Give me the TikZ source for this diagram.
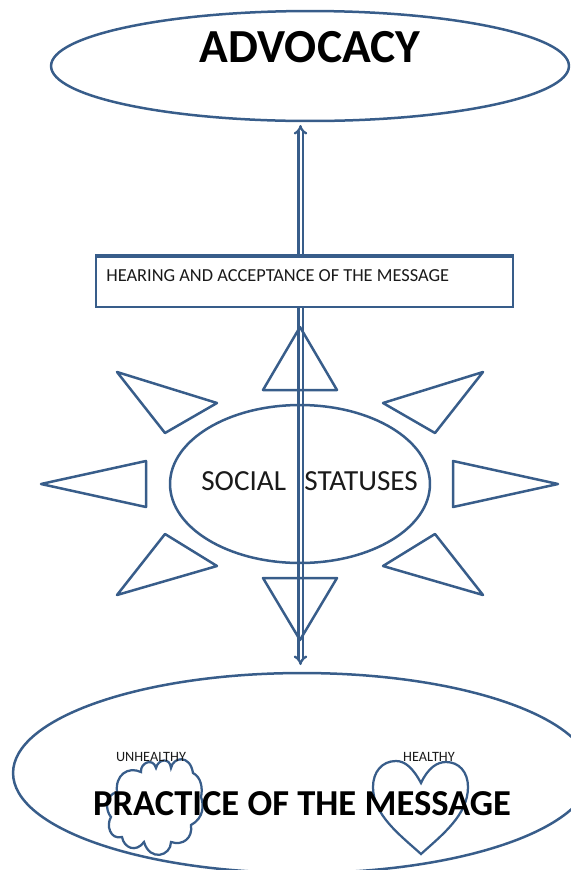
\documentclass[tikz,border=0pt]{standalone}
\usepackage{fontspec}
\setmainfont{Carlito}
\usepackage{xcolor}
\usetikzlibrary{shapes.geometric,arrows.meta}
\definecolor{officeBlue}{HTML}{385D8A}
\definecolor{textDark}{HTML}{1A1A1A}
\tikzset{
    blob/.style={draw=officeBlue, line width=0.05cm, ellipse, inner sep=0pt},
    spike/.style={draw=officeBlue, line width=0.05cm, line join=round},
    mainlabel/.style={inner sep=0pt, font=\bfseries\fontsize{20.8}{25}\selectfont},
    statuslabel/.style={inner sep=0pt, anchor=base west, text=textDark, font=\fontsize{16.6}{18}\selectfont},
    smalllabel/.style={inner sep=0pt, text=textDark, font=\fontsize{8.1}{9}\selectfont},
}

\begin{document}
\begin{tikzpicture}[x=0.02cm, y=-0.02cm]
    \clip (0, 0) rectangle (571, 870);
    \useasboundingbox (0, 0) rectangle (571, 870);
    \coordinate (arrowtop) at (300.5, 125);
    \coordinate (arrowbottom) at (300.5, 665);
    \draw[officeBlue, line width=0.045cm, double=white, double distance=0.04cm,
        {Implies[length=4.5pt, width=10pt]}-{Implies[length=4.5pt, width=10pt]}] (arrowtop) -- (arrowbottom);
    \node[blob, minimum width=10.36cm, minimum height=2.2cm] (advocacy) at (310, 66) {};
    \node[blob, minimum width=11.56cm, minimum height=4cm] (practice) at (302, 773) {};
    \node[blob, minimum width=5.2cm, minimum height=3.16cm] (statuses) at (300, 484) {};
    % rays round the middle ellipse
    \foreach \ax/\ay/\bx/\by/\cx/\cy in {
        300/327/263/390/337/390, 300/640/263/578/337/578,
        41/484/146/461/146/507, 558/484/453/461/453/507,
        117/372/217/403/165/433, 483/372/383/403/435/433,
        117/595/217/566/165/534, 483/595/383/566/435/534}
        \draw[spike] (\ax, \ay) -- (\bx, \by) -- (\cx, \cy) -- cycle;
    \node[draw=officeBlue, line width=0.04cm, fill=white, minimum width=8.34cm, minimum height=1cm, inner sep=0pt] (hearing) at (304.5, 282) {};
    \draw[officeBlue, line width=0.07cm] (hearing.north west) -- (hearing.north east);
    \node[smalllabel, anchor=base west, font=\fontsize{10.45}{12}\selectfont] (hearinglabel) at (106, 281) {HEARING AND ACCEPTANCE OF THE MESSAGE};
    \node[mainlabel, font=\bfseries\fontsize{27}{30}\selectfont] (advocacylabel) at (310, 47) {ADVOCACY};
    \node[statuslabel] (sociallabel) at (201, 490) {SOCIAL};
    \node[statuslabel] (statuseslabel) at (304, 490) {STATUSES};
    % cloud
    \draw[officeBlue, line width=0.045cm] (117, 792)
        .. controls (115, 775) and (128, 766) .. (141, 772)
        .. controls (140, 763) and (153, 757) .. (156, 768)
        .. controls (158, 759) and (170, 757) .. (171, 768)
        .. controls (173, 757) and (190, 754) .. (193, 773)
        .. controls (201, 777) and (203, 788) .. (201, 797)
        .. controls (204, 805) and (204, 818) .. (191, 825)
        .. controls (193, 838) and (183, 846) .. (171, 842)
        .. controls (171, 856) and (150, 862) .. (144, 842)
        .. controls (136, 853) and (124, 848) .. (122, 837)
        .. controls (110, 840) and (106, 825) .. (111, 817)
        .. controls (105, 810) and (105, 795) .. (117, 792) -- cycle;
    % heart
    \draw[officeBlue, line width=0.045cm] (421, 783)
        .. controls (413, 768) and (405, 761) .. (396, 761)
        .. controls (382, 761) and (373, 772) .. (373, 787)
        .. controls (373, 815) and (400, 835) .. (421, 854)
        .. controls (442, 835) and (468, 815) .. (468, 787)
        .. controls (468, 772) and (459, 762) .. (446, 762)
        .. controls (437, 762) and (428, 768) .. (421, 783) -- cycle;
    \node[smalllabel] (unhealthy) at (151, 757) {UNHEALTHY};
    \node[smalllabel] (healthy) at (429, 757) {HEALTHY};
    \node[mainlabel] (practicelabel) at (302, 804) {PRACTICE OF THE MESSAGE};
\end{tikzpicture}
\end{document}
